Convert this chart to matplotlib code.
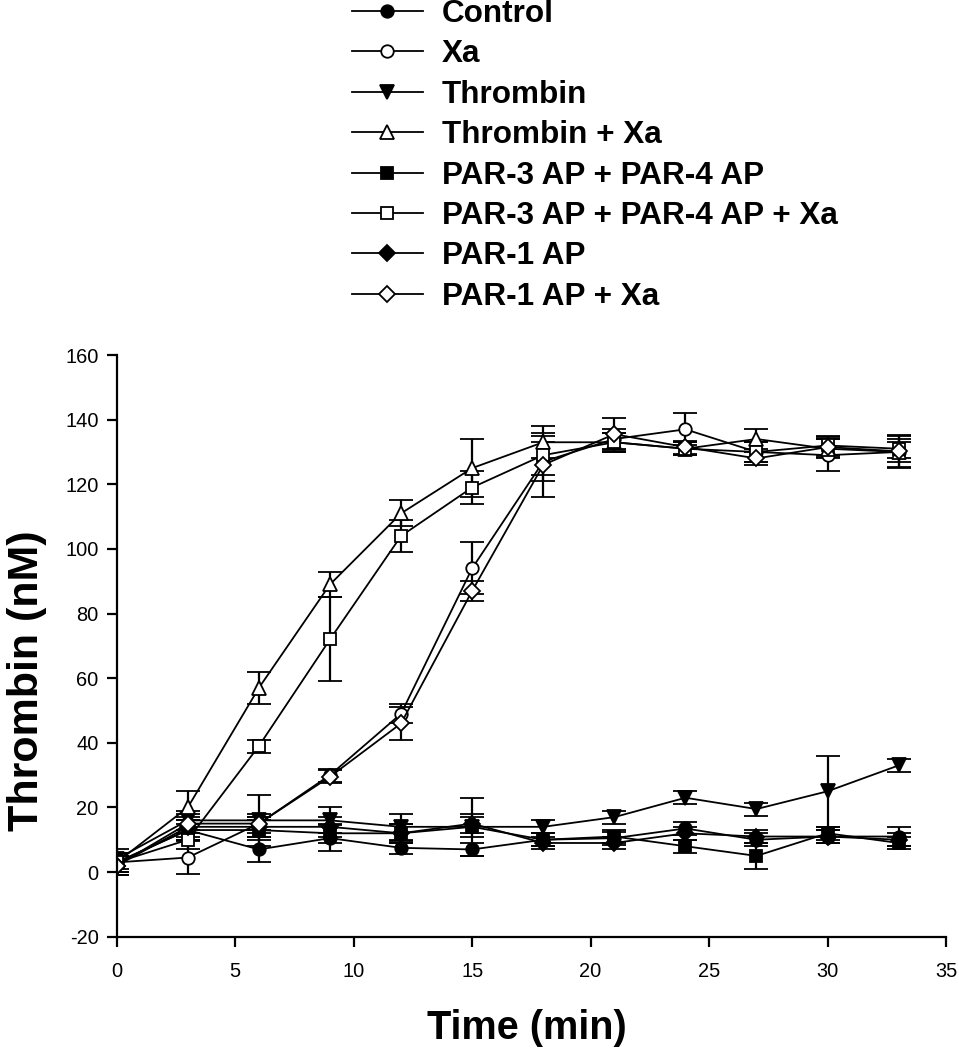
import matplotlib
matplotlib.use("Agg")
import matplotlib.pyplot as plt

plt.rcParams['font.family'] = ['Liberation Sans', 'DejaVu Sans']
plt.rcParams['axes.unicode_minus'] = False

# sampling times (min)
t = [0, 3, 6, 9, 12, 15, 18, 21, 24, 27, 30, 33]

labels = ["Control", "Xa", "Thrombin", "Thrombin + Xa",
          "PAR-3 AP + PAR-4 AP", "PAR-3 AP + PAR-4 AP + Xa",
          "PAR-1 AP", "PAR-1 AP + Xa"]

control = [3, 13, 7, 10.5, 7.5, 7, 10, 10.5, 13.5, 10, 11, 11]
control_err = [3, 3, 4, 4, 2, 2, 2, 2, 2, 2, 2, 3]
xa = [3, 4.5, 15, 30, 49, 94, 127, 134, 137, 130, 129, 130]
xa_err = [3, 5, 3, 2, 3, 8, 6, 3, 5, 3, 5, 5]
thrombin = [4, 16, 16, 16, 14, 14, 14, 17, 23, 19.5, 25, 33]
thrombin_err = [3, 3, 8, 4, 4, 9, 2, 2, 2, 2, 11, 2]
thr_xa = [3, 20, 57, 89, 111, 125, 133, 133, 131, 134, 131, 130]
thr_xa_err = [3, 5, 5, 4, 4, 9, 5, 3, 2, 3, 3, 3]
par34 = [3, 13, 13, 12, 12, 14, 10, 11, 8, 5, 12, 9]
par34_err = [3, 3, 3, 3, 3, 3, 2, 2, 2, 4, 2, 2]
par34_xa = [3, 10, 39, 72, 104, 119, 129, 133, 131, 130, 132, 131]
par34_xa_err = [3, 3, 2, 13, 5, 5, 6, 3, 2, 3, 3, 3]
par1 = [2, 14, 14, 14, 12, 15, 9, 9, 12, 11, 11, 10]
par1_err = [3, 3, 3, 3, 3, 3, 2, 2, 2, 2, 2, 2]
par1_xa = [2, 15, 15, 29.5, 46, 87, 126, 135.5, 131.5, 128, 131.5, 130.2]
par1_xa_err = [3, 3, 2, 2, 5, 3, 10, 5, 2, 2, 3, 5]

series = [control, xa, thrombin, thr_xa, par34, par34_xa, par1, par1_xa]
errors = [control_err, xa_err, thrombin_err, thr_xa_err,
          par34_err, par34_xa_err, par1_err, par1_xa_err]
markers = ['o', 'o', 'v', '^', 's', 's', 'D', 'D']
faces = ['black', 'white', 'black', 'white', 'black', 'white', 'black', 'white']
sizes = [9, 9, 10, 10, 9, 9, 8, 8]

fig = plt.figure(figsize=(9.59, 10.5), dpi=100)
ax = fig.add_axes([0.1217, 0.1079, 0.8648, 0.5540])

handles = []
for y, e, m, fc, ms in zip(series, errors, markers, faces, sizes):
    eb = ax.errorbar(t, y, yerr=e, fmt='-', marker=m, ms=ms, mfc=fc, mec='black',
                     mew=1.3, color='black', lw=1.3, ecolor='black',
                     elinewidth=1.6, capsize=8.5, capthick=1.6)
    handles.append(eb[0])

ax.set_xlim(0, 35)
ax.set_ylim(-20, 160)
ax.set_xticks(range(0, 36, 5))
ax.set_yticks(range(-20, 161, 20))
ax.spines['top'].set_visible(False)
ax.spines['right'].set_visible(False)
for s in ['left', 'bottom']:
    ax.spines[s].set_linewidth(1.6)
ax.tick_params(direction='out', length=7, width=1.6, labelsize=14.4)
ax.tick_params(axis='x', pad=11)
ax.tick_params(axis='y', pad=6)

ax.set_xlabel("Time (min)", fontsize=28.5, fontweight='bold')
ax.xaxis.set_label_coords(0.495, -0.157)
ax.xaxis.label.set_va('center')
ax.set_ylabel("Thrombin (nM)", fontsize=31, fontweight='bold', va='center')
ax.yaxis.set_label_coords(-0.108, 0.44)

fig.legend(handles, labels, loc='upper left', bbox_to_anchor=(352 / 959, 1 + 1 / 1050),
           frameon=False, prop={'size': 22.7, 'weight': 'bold'}, handlelength=2.25,
           handletextpad=0.6, borderpad=0, borderaxespad=0, labelspacing=0.33,
           numpoints=1)

fig.savefig("out.png", dpi=100)
